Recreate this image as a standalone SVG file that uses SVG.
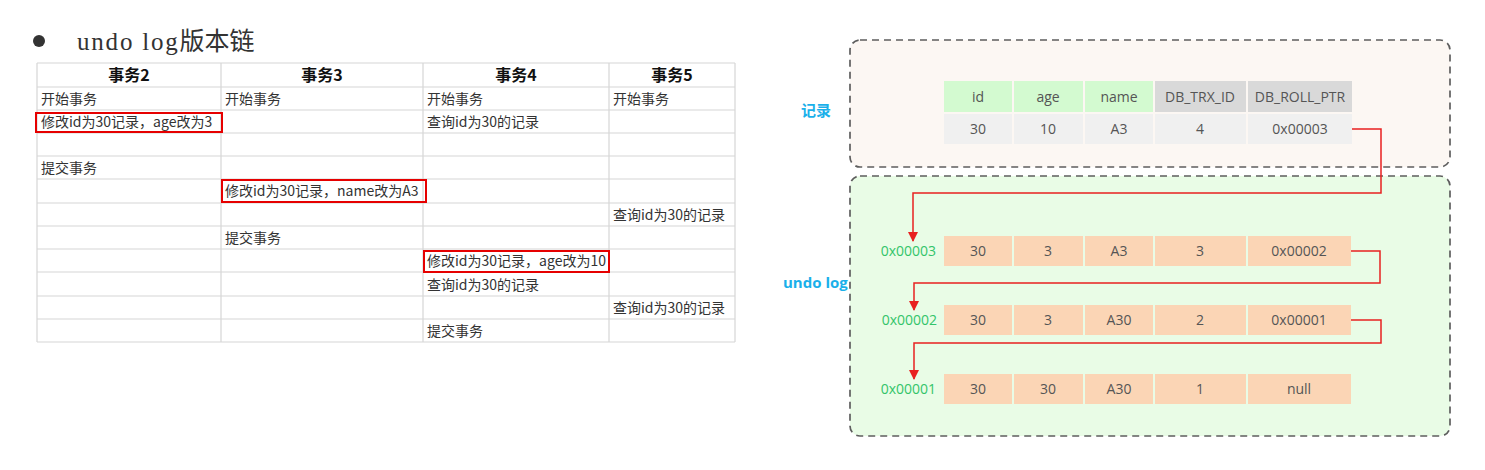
<svg xmlns="http://www.w3.org/2000/svg" width="1485" height="470" viewBox="0 0 1485 470">
<style>
.grid{stroke:#d6d6d6;stroke-width:1.2;fill:none}
.th{font-family:"Noto Sans CJK SC","Liberation Sans",sans-serif;font-size:16px;font-weight:bold;fill:#111;text-anchor:middle}
.td{font-family:"Noto Sans CJK SC","Liberation Sans",sans-serif;font-size:14px;fill:#333}
.hl{fill:none;stroke:#e60000;stroke-width:2}
.box{stroke:#5e5e5e;stroke-width:1.7;stroke-dasharray:7 5}
.ct{font-family:"Open Sans","Noto Sans",sans-serif;font-size:14px;fill:#555;text-anchor:middle}
.hg{fill:#d3fad0}
.hgr{fill:#d9d9d9}
.dg{fill:#f0f0f0}
.pe{fill:#fbd5b5}
.addr{font-family:"Open Sans","Noto Sans",sans-serif;font-size:14px;fill:#33c46a;text-anchor:end}
.lbl{font-family:"Open Sans","Noto Sans CJK SC",sans-serif;font-size:15px;font-weight:bold;fill:#1ab0ea}
.conn{fill:none;stroke:#e82020;stroke-width:1.5}
</style>
<defs>
<marker id="arr" markerWidth="10" markerHeight="10" refX="9" refY="5" orient="auto" markerUnits="userSpaceOnUse">
<path d="M0,0 L10,5 L0,10 z" fill="#e82020"/>
</marker>
</defs>
<rect width="1485" height="470" fill="#fff"/>

<g id="title">
<circle cx="39" cy="41" r="6" fill="#333"/>
<text x="77" y="50" fill="#333"><tspan font-family="Liberation Serif,serif" font-size="25" letter-spacing="1.8">undo log</tspan><tspan font-family="Noto Sans CJK SC,sans-serif" font-size="25">版本链</tspan></text>
</g>

<g id="txn-table">
<g class="grid">
<path d="M37,63H735M37,87H735M37,110H735M37,133H735M37,156H735M37,179H735M37,203H735M37,226H735M37,249H735M37,272H735M37,296H735M37,319H735M37,342H735"/>
<path d="M37,63V342M221,63V342M423,63V342M609,63V342M735,63V342"/>
</g>
<text class="th" x="129" y="81">事务2</text>
<text class="th" x="322" y="81">事务3</text>
<text class="th" x="516" y="81">事务4</text>
<text class="th" x="672" y="81">事务5</text>
<text class="td" x="41" y="104">开始事务</text>
<text class="td" x="225" y="104">开始事务</text>
<text class="td" x="427" y="104">开始事务</text>
<text class="td" x="613" y="104">开始事务</text>
<text class="td" x="41" y="127">修改id为30记录，age改为3</text>
<text class="td" x="427" y="127">查询id为30的记录</text>
<text class="td" x="41" y="173">提交事务</text>
<text class="td" x="225" y="196">修改id为30记录，name改为A3</text>
<text class="td" x="613" y="220">查询id为30的记录</text>
<text class="td" x="225" y="243">提交事务</text>
<text class="td" x="427" y="266">修改id为30记录，age改为10</text>
<text class="td" x="427" y="290">查询id为30的记录</text>
<text class="td" x="613" y="313">查询id为30的记录</text>
<text class="td" x="427" y="336">提交事务</text>
<rect class="hl" x="36" y="113" width="186" height="19"/>
<rect class="hl" x="222" y="180" width="204" height="22"/>
<rect class="hl" x="424" y="251" width="185" height="21"/>
</g>

<g id="record">
<rect class="box" x="850" y="40" width="600" height="127" rx="10" fill="#fcf7f3"/>
<text class="lbl" x="801" y="116" font-size="16">记录</text>
<rect class="hg" x="944" y="81" width="68" height="31"/>
<rect class="hg" x="1014" y="81" width="69" height="31"/>
<rect class="hg" x="1085" y="81" width="68" height="31"/>
<rect class="hgr" x="1155" y="81" width="91" height="31"/>
<rect class="hgr" x="1248" y="81" width="104" height="31"/>
<text class="ct" x="978" y="102">id</text>
<text class="ct" x="1048" y="102">age</text>
<text class="ct" x="1119" y="102">name</text>
<text class="ct" x="1200" y="102">DB_TRX_ID</text>
<text class="ct" x="1300" y="102">DB_ROLL_PTR</text>
<rect class="dg" x="944" y="114" width="68" height="30"/>
<rect class="dg" x="1014" y="114" width="69" height="30"/>
<rect class="dg" x="1085" y="114" width="68" height="30"/>
<rect class="dg" x="1155" y="114" width="91" height="30"/>
<rect class="dg" x="1248" y="114" width="104" height="30"/>
<text class="ct" x="978" y="134">30</text>
<text class="ct" x="1048" y="134">10</text>
<text class="ct" x="1119" y="134">A3</text>
<text class="ct" x="1200" y="134">4</text>
<text class="ct" x="1300" y="134">0x00003</text>
</g>

<g id="undo-log">
<rect class="box" x="850" y="176" width="600" height="260" rx="10" fill="#e9fce6"/>
<text class="lbl" x="783" y="288">undo log</text>
</g>

<g id="undo-row1">
<text class="addr" x="936" y="256">0x00003</text>
<rect class="pe" x="944" y="236" width="68" height="30"/>
<rect class="pe" x="1014" y="236" width="69" height="30"/>
<rect class="pe" x="1085" y="236" width="68" height="30"/>
<rect class="pe" x="1155" y="236" width="91" height="30"/>
<rect class="pe" x="1248" y="236" width="103" height="30"/>
<text class="ct" x="978" y="256">30</text>
<text class="ct" x="1048" y="256">3</text>
<text class="ct" x="1119" y="256">A3</text>
<text class="ct" x="1200" y="256">3</text>
<text class="ct" x="1299" y="256">0x00002</text>
</g>

<g id="undo-row2">
<text class="addr" x="937" y="325">0x00002</text>
<rect class="pe" x="944" y="305" width="68" height="30"/>
<rect class="pe" x="1014" y="305" width="69" height="30"/>
<rect class="pe" x="1085" y="305" width="68" height="30"/>
<rect class="pe" x="1155" y="305" width="91" height="30"/>
<rect class="pe" x="1248" y="305" width="103" height="30"/>
<text class="ct" x="978" y="325">30</text>
<text class="ct" x="1048" y="325">3</text>
<text class="ct" x="1119" y="325">A30</text>
<text class="ct" x="1200" y="325">2</text>
<text class="ct" x="1299" y="325">0x00001</text>
</g>

<g id="undo-row3">
<text class="addr" x="936" y="394">0x00001</text>
<rect class="pe" x="944" y="374" width="68" height="30"/>
<rect class="pe" x="1014" y="374" width="69" height="30"/>
<rect class="pe" x="1085" y="374" width="68" height="30"/>
<rect class="pe" x="1155" y="374" width="91" height="30"/>
<rect class="pe" x="1248" y="374" width="103" height="30"/>
<text class="ct" x="978" y="394">30</text>
<text class="ct" x="1048" y="394">30</text>
<text class="ct" x="1119" y="394">A30</text>
<text class="ct" x="1200" y="394">1</text>
<text class="ct" x="1299" y="394">null</text>
</g>

<g id="connectors">
<path class="conn" d="M1352,129H1381V193H913V241" marker-end="url(#arr)"/>
<path class="conn" d="M1351,251H1380V283H914V310" marker-end="url(#arr)"/>
<path class="conn" d="M1351,320H1381V343H914V379" marker-end="url(#arr)"/>
</g>
</svg>
